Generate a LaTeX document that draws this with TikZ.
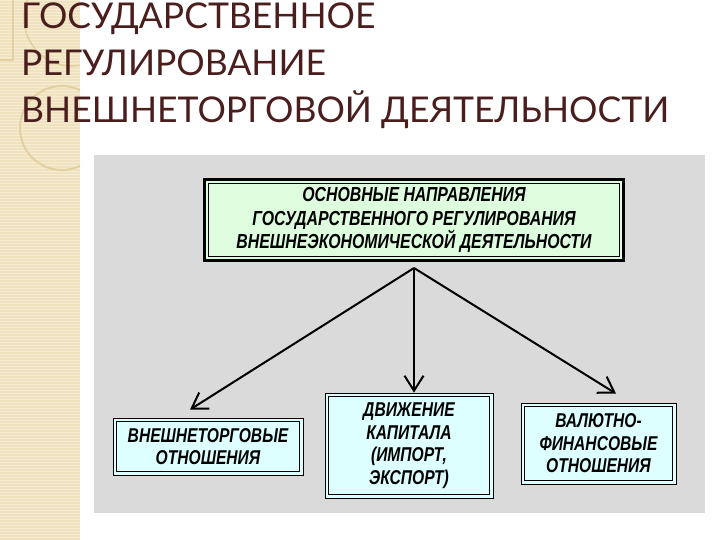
\documentclass[tikz,border=0pt]{standalone}
\usepackage{fontspec}
\newfontfamily\titlefont{Lato}
\newfontfamily\boxfont{Liberation Sans}[FakeStretch=0.78]
\usepackage{tikz}
\usetikzlibrary{arrows.meta, calc}
\definecolor{titlebrown}{RGB}{75, 30, 30}
\definecolor{panelgray}{RGB}{218, 218, 218}
\definecolor{stripbeige}{RGB}{240, 226, 190}
\definecolor{ringbeige}{RGB}{226, 208, 160}
\definecolor{headgreen}{RGB}{222, 253, 222}
\definecolor{itemcyan}{RGB}{222, 255, 255}
\tikzstyle{titleline} = [anchor=base west, inner sep=0pt, text=titlebrown, font=\titlefont\fontsize{35.5}{40}\selectfont]
\tikzstyle{headbox} = [draw, line width=3pt, fill=headgreen, align=center, inner sep=0pt,
    font=\boxfont\bfseries\itshape\fontsize{20.3}{23.5}\selectfont,
    path picture={\draw[line width=0.8pt] ([shift={(4pt,-4pt)}]path picture bounding box.north west) rectangle ([shift={(-4pt,4pt)}]path picture bounding box.south east);}]
\tikzstyle{itembox} = [draw, line width=0.8pt, fill=itemcyan, align=center, inner sep=0pt,
    font=\boxfont\bfseries\itshape\fontsize{20}{22.5}\selectfont,
    path picture={\draw[line width=0.8pt] ([shift={(3.5pt,-3.5pt)}]path picture bounding box.north west) rectangle ([shift={(-3.5pt,3.5pt)}]path picture bounding box.south east);}]
\tikzstyle{flow} = [line width=2pt, -{Straight Barb[length=15pt, width=19pt, line width=2pt]}]

\begin{document}
\begin{tikzpicture}[x=1pt, y=-1pt]
    \useasboundingbox (0,0) rectangle (720,540);

    % Beige side strip
    \fill[stripbeige] (0,0) rectangle (80,540);
    \foreach \y in {0,3,...,540}
        \draw[white, opacity=0.35, line width=0.6pt] (0,\y) -- (80,\y);
    \begin{scope}
        \clip (0,0) rectangle (80,540);
        \draw[ringbeige, line width=2pt] (62,128) circle (42);
        \draw[ringbeige, line width=1.5pt] (13,0) -- (13,60) -- (0,60);
        \draw[ringbeige, line width=1.5pt] (72,18) circle (48);
    \end{scope}

    % Title
    \node[titleline] (title1) at (21, 29) {ГОСУДАРСТВЕННОЕ};
    \node[titleline] (title2) at (21, 76) {РЕГУЛИРОВАНИЕ};
    \node[titleline] (title3) at (21, 123) {ВНЕШНЕТОРГОВОЙ ДЕЯТЕЛЬНОСТИ};

    % Gray panel
    \fill[panelgray] (94,155) rectangle (705,513);

    % Main box
    \node[headbox, minimum width=419pt, minimum height=81pt] (head) at (414, 220)
        {ОСНОВНЫЕ НАПРАВЛЕНИЯ\\ГОСУДАРСТВЕННОГО РЕГУЛИРОВАНИЯ\\ВНЕШНЕЭКОНОМИЧЕСКОЙ ДЕЯТЕЛЬНОСТИ};

    % Directions
    \node[itembox, minimum width=190pt, minimum height=57pt] (trade) at (208, 446.5)
        {ВНЕШНЕТОРГОВЫЕ\\ОТНОШЕНИЯ};
    \node[itembox, minimum width=168pt, minimum height=105pt] (capital) at (409, 445.5)
        {ДВИЖЕНИЕ\\КАПИТАЛА\\(ИМПОРТ,\\ЭКСПОРТ)};
    \node[itembox, minimum width=155pt, minimum height=81pt] (currency) at (598.5, 443.5)
        {ВАЛЮТНО-\\ФИНАНСОВЫЕ\\ОТНОШЕНИЯ};

    % Arrows
    \coordinate (hub) at ([yshift=-6pt]head.south);
    \draw[flow] (hub) -- ([shift={(-18pt,8pt)}]trade.north);
    \draw[flow] (hub) -- (hub |- capital.north);
    \draw[flow] (hub) -- ([shift={(17.5pt,9pt)}]currency.north);
\end{tikzpicture}
\end{document}
